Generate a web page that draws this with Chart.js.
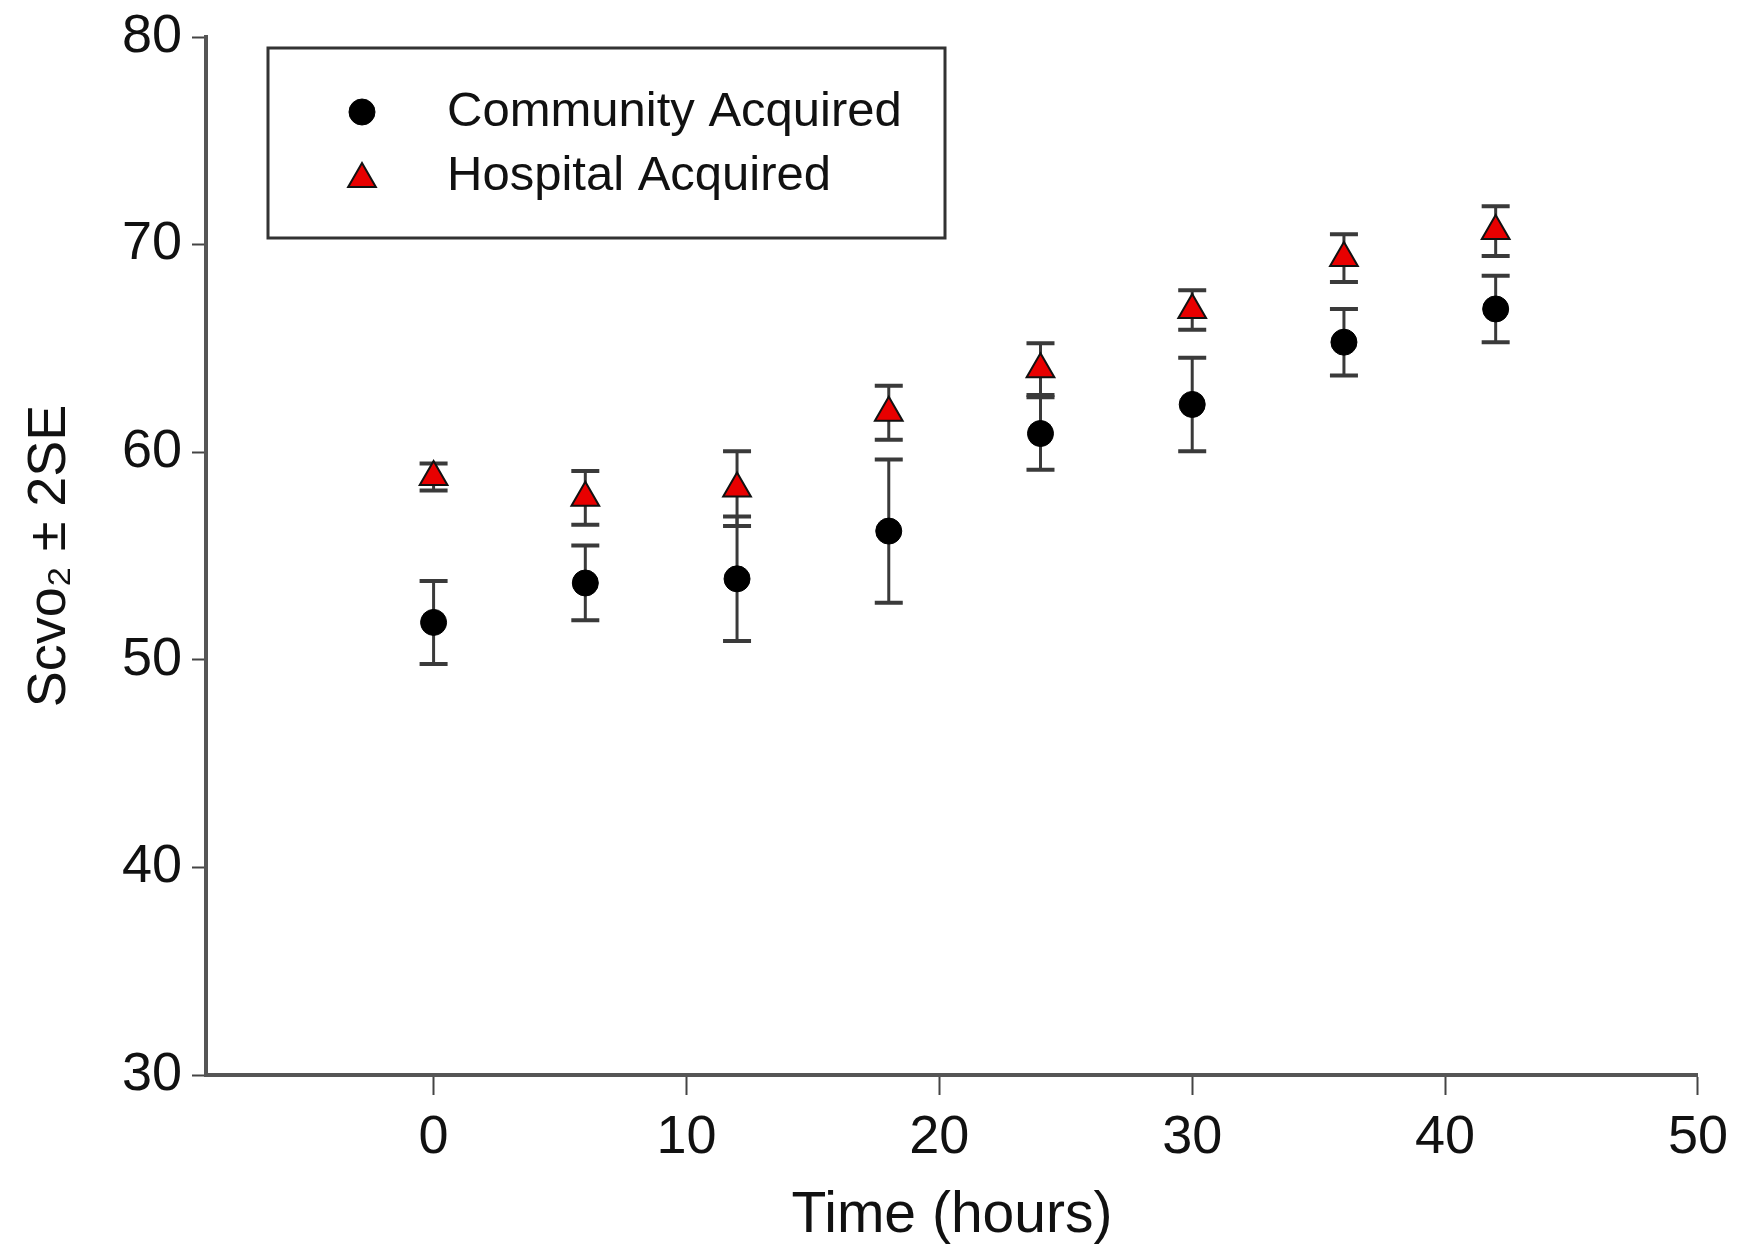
<!DOCTYPE html>
<html>
<head>
<meta charset="utf-8">
<script src="https://cdn.jsdelivr.net/npm/chart.js@4/dist/chart.umd.min.js"></script>
<style>
  html, body { margin: 0; padding: 0; background: #fff; }
  #wrap { width: 1744px; height: 1248px; }
</style>
</head>
<body>
<div id="wrap"><canvas id="c" width="1744" height="1248"></canvas></div>
<script>
// ---- data ----
const timesHours = [0, 6, 12, 18, 24, 30, 36, 42];
const communityMean = [51.8, 53.7, 53.9, 56.2, 60.9, 62.3, 65.3, 66.9];
const community2SE  = [2.0, 1.8, 3.0, 3.45, 1.75, 2.25, 1.6, 1.6];
const hospitalMean  = [58.8, 57.8, 58.25, 61.9, 64.0, 66.85, 69.35, 70.65];
const hospital2SE   = [0.65, 1.3, 1.8, 1.3, 1.25, 0.95, 1.15, 1.2];
const seriesNames = ['Community Acquired', 'Hospital Acquired'];
const xTickValues = [0, 10, 20, 30, 40, 50];
const yTickValues = [30, 40, 50, 60, 70, 80];
const xTitle = 'Time (hours)';
const yTitle = 'Scvo\u2082 \u00b1 2SE';

const toPoints = (xs, ys) => xs.map((x, i) => ({ x: x, y: ys[i] }));

const errorBarPlugin = {
  id: 'errorBars',
  beforeDatasetsDraw(chart) {
    const ctx = chart.ctx;
    const xs = chart.scales.x, ys = chart.scales.y;
    chart.data.datasets.forEach(ds => {
      const errs = ds.errors;
      ds.data.forEach((p, i) => {
        const px = xs.getPixelForValue(p.x);
        const top = ys.getPixelForValue(p.y + errs[i]);
        const bot = ys.getPixelForValue(p.y - errs[i]);
        ctx.save();
        ctx.strokeStyle = '#3a3a3a';
        ctx.lineWidth = 3;
        ctx.beginPath();
        ctx.moveTo(px, top); ctx.lineTo(px, bot);
        ctx.stroke();
        ctx.lineWidth = 4;
        ctx.beginPath();
        ctx.moveTo(px - 14, top); ctx.lineTo(px + 14, top);
        ctx.moveTo(px - 14, bot); ctx.lineTo(px + 14, bot);
        ctx.stroke();
        ctx.restore();
      });
    });
  }
};

const legendPlugin = {
  id: 'boxLegend',
  afterDraw(chart) {
    const ctx = chart.ctx;
    ctx.save();
    ctx.strokeStyle = '#333';
    ctx.lineWidth = 3;
    ctx.strokeRect(268, 48, 677, 190);
    const rows = [112, 176];
    chart.data.datasets.forEach((ds, i) => {
      ctx.fillStyle = ds.pointBackgroundColor;
      ctx.strokeStyle = ds.pointBorderColor;
      ctx.lineWidth = ds.pointBorderWidth;
      Chart.helpers.drawPoint(ctx, {
        pointStyle: ds.pointStyle,
        radius: ds.pointRadius,
        borderWidth: ds.pointBorderWidth
      }, 362, rows[i] + (ds.pointStyle === 'triangle' ? 3 : 0));
      ctx.fillStyle = '#111';
      ctx.font = '49px "Liberation Sans", Arial, sans-serif';
      ctx.textBaseline = 'middle';
      ctx.textAlign = 'left';
      ctx.fillText(ds.label, 447, rows[i]);
    });
    ctx.restore();
  }
};

new Chart(document.getElementById('c'), {
  type: 'scatter',
  data: {
    datasets: [
      {
        label: seriesNames[0],
        data: toPoints(timesHours, communityMean),
        errors: community2SE,
        pointStyle: 'circle',
        pointRadius: 13,
        pointBackgroundColor: '#000',
        pointBorderColor: '#000',
        pointBorderWidth: 1,
        showLine: false
      },
      {
        label: seriesNames[1],
        data: toPoints(timesHours, hospitalMean),
        errors: hospital2SE,
        pointStyle: 'triangle',
        pointRadius: 16,
        pointBackgroundColor: '#e80000',
        pointBorderColor: '#111',
        pointBorderWidth: 2,
        showLine: false
      }
    ]
  },
  options: {
    responsive: false,
    animation: false,
    devicePixelRatio: 1,
    layout: { padding: { left: 0, top: 30, right: 46, bottom: 0 } },
    plugins: { legend: { display: false }, tooltip: { enabled: false } },
    scales: {
      x: {
        type: 'linear',
        min: -9, max: 50,
        afterBuildTicks: s => { s.ticks = xTickValues.map(v => ({ value: v })); },
        afterFit: s => { s.height = 173; },
        border: { display: true, color: '#555', width: 4 },
        grid: { display: true, drawOnChartArea: false, drawTicks: true, tickLength: 20, tickColor: '#444', tickWidth: 2 },
        ticks: { color: '#111', padding: 16, maxRotation: 0, font: { family: '"Liberation Sans", Arial, sans-serif', size: 54, lineHeight: 1.0 } },
        title: { display: true, text: xTitle, color: '#111', padding: { top: 0, bottom: 3 },
          font: { family: '"Liberation Sans", Arial, sans-serif', size: 57, lineHeight: 1.0 } }
      },
      y: {
        type: 'linear',
        min: 30, max: 80,
        afterBuildTicks: s => { s.ticks = yTickValues.map(v => ({ value: v })); },
        afterFit: s => { s.width = 206; },
        border: { display: true, color: '#555', width: 4 },
        grid: { display: true, drawOnChartArea: false, drawTicks: true, tickLength: 14, tickColor: '#444', tickWidth: 2 },
        ticks: { color: '#111', padding: 10, font: { family: '"Liberation Sans", Arial, sans-serif', size: 54, lineHeight: 1.0 } },
        title: { display: true, text: yTitle, color: '#111', padding: { top: 18, bottom: 0 },
          font: { family: '"Liberation Sans", Arial, sans-serif', size: 54, lineHeight: 1.2 } }
      }
    }
  },
  plugins: [errorBarPlugin, legendPlugin]
});
</script>
</body>
</html>
